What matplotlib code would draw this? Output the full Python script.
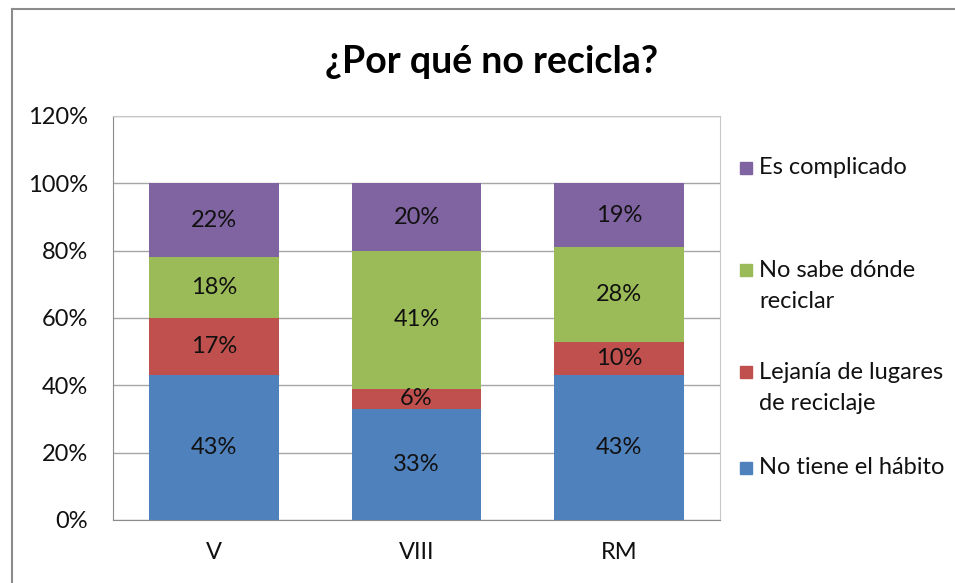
import matplotlib
matplotlib.use("Agg")
import matplotlib.pyplot as plt
from matplotlib.patches import Rectangle
from matplotlib.lines import Line2D
import numpy as np

plt.rcParams["font.family"] = ["Lato", "DejaVu Sans"]

# --- data (percent) ---
regions = ["V", "VIII", "RM"]
no_tiene_habito = [43, 33, 43]
lejania = [17, 6, 10]
no_sabe_donde = [18, 41, 28]
es_complicado = [22, 20, 19]

series = [
    ("No tiene el hábito", no_tiene_habito, "#4F81BD"),
    ("Lejanía de lugares\nde reciclaje", lejania, "#C0504D"),
    ("No sabe dónde\nreciclar", no_sabe_donde, "#9BBB59"),
    ("Es complicado", es_complicado, "#8064A2"),
]
yticks = [0, 20, 40, 60, 80, 100, 120]

FS = 17
W, H = 955, 583
fig = plt.figure(figsize=(W / 100, H / 100), dpi=100)
ax = fig.add_axes([113 / W, 1 - 520 / H, (720 - 113) / W, (520 - 116) / H])

x = np.arange(len(regions))
bottom = np.zeros(len(regions))
for name, vals, color in series:
    vals = np.array(vals, dtype=float)
    ax.bar(x, vals, bottom=bottom, width=0.64, color=color, linewidth=0, zorder=3)
    for xi, b, v in zip(x, bottom, vals):
        ax.text(xi, b + v / 2, f"{v:.0f}%", ha="center", va="center",
                fontsize=FS, color="#111111", zorder=4)
    bottom += vals

ax.set_xlim(-0.5, len(regions) - 0.5)
ax.set_ylim(0, 120)
ax.set_yticks(yticks)
ax.set_yticklabels([f"{t}%" for t in yticks], fontsize=FS, color="#111111")
ax.set_xticks(x)
ax.set_xticklabels(regions, fontsize=FS, color="#111111")
ax.tick_params(axis="y", length=0, pad=18)
ax.tick_params(axis="x", length=0, pad=16)
ax.grid(axis="y", color="#A6A6A6", linewidth=1, zorder=0)
for side in ["top", "right"]:
    ax.spines[side].set_color("#C8C8C8")
for side in ["left", "bottom"]:
    ax.spines[side].set_color("#8C8C8C")

fig.text(492 / W, 1 - 62 / H, "¿Por qué no recicla?", ha="center", va="center",
         fontsize=27, fontweight="bold", color="black")

# legend drawn manually, top entry first: (marker centre, text centre) in px
legend_pos = [(168, 168), (270, 286), (372, 388), (468, 468)]
for (name, vals, color), (my, ty) in zip(reversed(series), legend_pos):
    fig.patches.append(Rectangle((740 / W, 1 - (my + 6) / H), 12 / W, 12 / H,
                                 transform=fig.transFigure, color=color, figure=fig))
    fig.text(759 / W, 1 - ty / H, name, ha="left", va="center",
             fontsize=FS, color="#111111", linespacing=1.55)

# outer chart frame (partially visible)
fig.lines.append(Line2D([12 / W, 1], [1 - 9 / H, 1 - 9 / H], transform=fig.transFigure,
                        color="#8C8C8C", linewidth=1.5))
fig.lines.append(Line2D([12 / W, 12 / W], [0, 1 - 9 / H], transform=fig.transFigure,
                        color="#8C8C8C", linewidth=1.5))

fig.savefig("out.png", dpi=100)
